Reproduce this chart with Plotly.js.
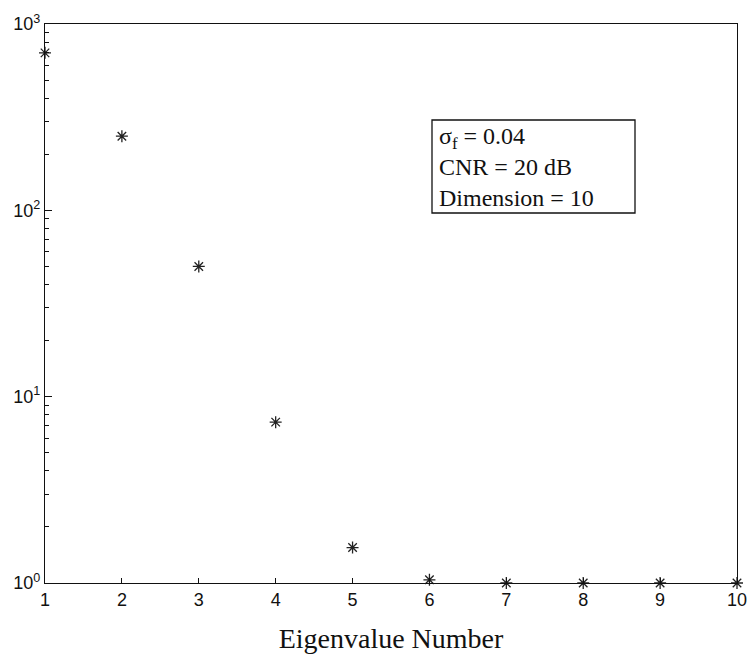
<!DOCTYPE html>
<html><head><meta charset="utf-8">
<script src="https://cdn.plot.ly/plotly-3.0.1.min.js"></script>
<style>body{margin:0;background:#fff}#c{width:750px;height:657px}</style>
</head><body><div id="c"></div>
<script>
const eigenNumber = [1,2,3,4,5,6,7,8,9,10];
const eigenValue = [700, 250, 50, 7.3, 1.55, 1.04, 1.0, 1.0, 1.0, 1.0];
const yTickVals = [1, 10, 100, 1000];
const yTickText = ['10<sup>0</sup>','10<sup>1</sup>','10<sup>2</sup>','10<sup>3</sup>'];
const yMinorVals = [2,3,4,5,6,7,8,9,20,30,40,50,60,70,80,90,200,300,400,500,600,700,800,900];
const annotLines = ['σ<sub>f</sub> = 0.04','CNR = 20 dB','Dimension = 10'];

const L = 45, T = 24, W = 692, H = 559;
const px = v => (v - L) / W;
const py = v => (T + H - v) / H;

const trace = {
  x: eigenNumber, y: eigenValue, mode: 'markers', type: 'scatter',
  marker: {symbol: 'asterisk-open', size: 10, color: '#222', line: {color: '#222', width: 1.3}},
  cliponaxis: false, showlegend: false
};
const axisCommon = {showline: true, linecolor: '#111', linewidth: 1.3, mirror: true, ticks: 'inside',
  tickcolor: '#111', ticklen: 5, showgrid: false, zeroline: false,
  tickfont: {family: 'Liberation Sans, Arial, sans-serif', size: 18, color: '#111'}};
const layout = {
  width: 750, height: 657, paper_bgcolor: '#fff', plot_bgcolor: '#fff',
  margin: {l: L, r: 750 - L - W, t: T, b: 657 - T - H},
  xaxis: Object.assign({}, axisCommon, {range: [1, 10], tickvals: eigenNumber, ticktext: eigenNumber.map(String),
    title: {text: 'Eigenvalue Number', font: {family: 'Liberation Serif, Times New Roman, serif', size: 28, color: '#111'}, standoff: 19}}),
  yaxis: Object.assign({}, axisCommon, {type: 'log', range: [0, 3], tickvals: yTickVals, ticktext: yTickText, ticklen: 7,
    minor: {tickmode: 'array', tickvals: yMinorVals, ticks: 'inside', ticklen: 4, tickcolor: '#111', showgrid: false}}),
  shapes: [{type: 'rect', xref: 'paper', yref: 'paper', x0: px(432), x1: px(635), y0: py(213), y1: py(120),
    line: {color: '#111', width: 1.3}, fillcolor: '#fff', layer: 'above'}],
  annotations: [{
    xref: 'paper', yref: 'paper', x: px(437), y: py(167), xanchor: 'left', yanchor: 'middle',
    text: annotLines.join('<br>'), align: 'left', showarrow: false,
    font: {family: 'Liberation Serif, Times New Roman, serif', size: 24, color: '#111'}
  }]
};
Plotly.newPlot('c', [trace], layout, {displayModeBar: false});
</script></body></html>
